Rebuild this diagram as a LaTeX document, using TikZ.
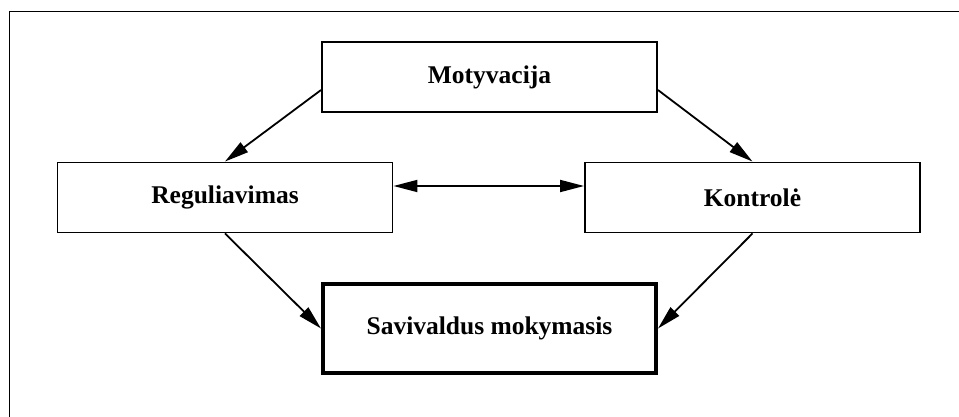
\documentclass[tikz,border=0pt]{standalone}
\usepackage{fontspec}
\setmainfont{Liberation Serif}
\usetikzlibrary{arrows.meta}
\begin{document}
\begin{tikzpicture}[x=1pt,y=-1pt,
  box/.style={draw,line width=1.9pt,rectangle,inner sep=0pt,minimum width=335pt,minimum height=70pt,font=\fontsize{25.5}{30}\selectfont\bfseries},
  mainbox/.style={box,line width=4pt,minimum width=333pt,minimum height=89pt},
  conn/.style={line width=1.8pt,-{Triangle[length=24pt,width=12pt]}},
  biconn/.style={line width=1.8pt,{Triangle[length=24pt,width=12pt]}-{Triangle[length=24pt,width=12pt]}}]
\useasboundingbox (0,0) rectangle (959,417);
\coordinate (fbl) at (9.5,418);
\coordinate (ftl) at (9.5,11.5);
\coordinate (ftr) at (960,11.5);
\draw[line width=1.9pt] (fbl) -- (ftl) -- (ftr);
\node[box] (mot) at (489.5,77) {Motyvacija};
\node[box] (reg) at (225,197.5) {Reguliavimas};
\node[box] (kon) at (752.5,197.5) {Kontrolė};
\node[mainbox] (sav) at (489.5,328.5) {Savivaldus mokymasis};
\draw[conn] ([yshift=-13pt]mot.west) -- (reg.north);
\draw[conn] ([yshift=-13pt]mot.east) -- (kon.north);
\draw[conn] (reg.south) -- (sav.west);
\draw[conn] (kon.south) -- (sav.east);
\draw[biconn] ([yshift=11.5pt]reg.east) -- ([yshift=11.5pt]kon.west);
\end{tikzpicture}
\end{document}
